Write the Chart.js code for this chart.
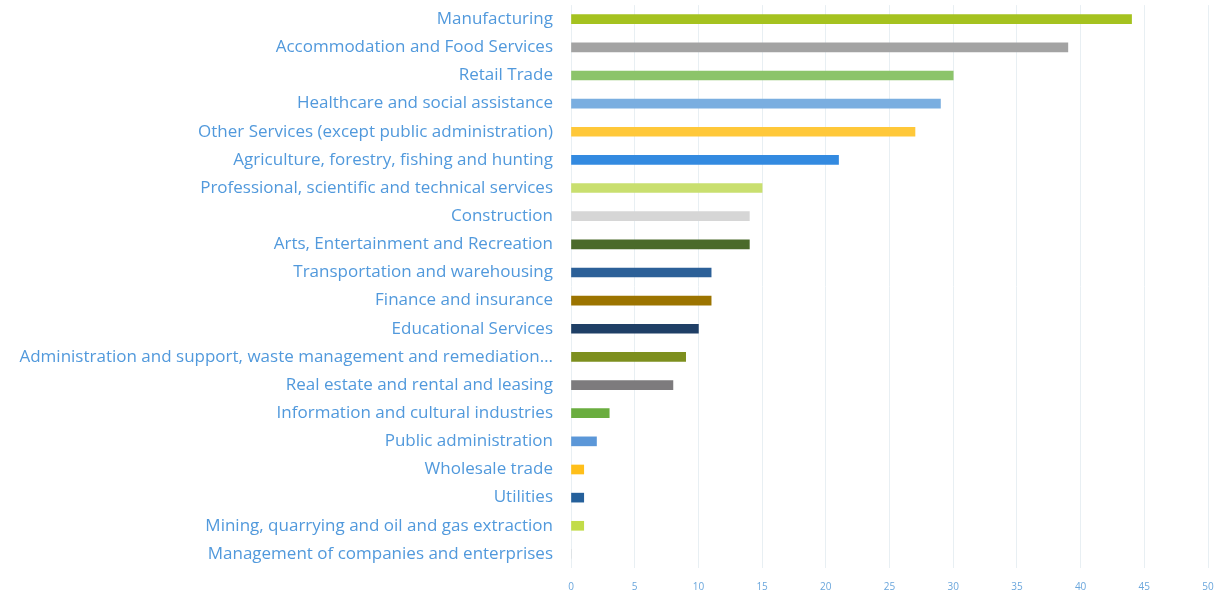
<!DOCTYPE html>
<html>
<head>
<meta charset="utf-8">
<script src="https://cdn.jsdelivr.net/npm/chart.js@4/dist/chart.umd.min.js"></script>
<style>
    html, body { margin: 0; padding: 0; background: #fff; }
    #wrap { width: 1217px; height: 593px; position: relative; }
</style>
</head>
<body>
<div id="wrap"><canvas id="industryChart"></canvas></div>
<script>
const industries = [
    'Manufacturing',
    'Accommodation and Food Services',
    'Retail Trade',
    'Healthcare and social assistance',
    'Other Services (except public administration)',
    'Agriculture, forestry, fishing and hunting',
    'Professional, scientific and technical services',
    'Construction',
    'Arts, Entertainment and Recreation',
    'Transportation and warehousing',
    'Finance and insurance',
    'Educational Services',
    'Administration and support, waste management and remediation\u2026',
    'Real estate and rental and leasing',
    'Information and cultural industries',
    'Public administration',
    'Wholesale trade',
    'Utilities',
    'Mining, quarrying and oil and gas extraction',
    'Management of companies and enterprises'
];

const counts = [44, 39, 30, 29, 27, 21, 15, 14, 14, 11, 11, 10, 9, 8, 3, 2, 1, 1, 1, 0];

const barColors = [
    '#a5c21f', '#a3a3a3', '#8cc46a', '#7aaee0', '#ffc839',
    '#338ae0', '#c9df6f', '#d6d6d6', '#4a6a2a', '#2c6098',
    '#9c7400', '#1f3f66', '#7d8f1e', '#7d7b7d', '#6aad3f',
    '#5b97d8', '#ffbf1a', '#25609b', '#c2dc48', '#cccccc'
];

const xTicks = [0, 5, 10, 15, 20, 25, 30, 35, 40, 45, 50];

const labelBlue = '#5199dc';

document.addEventListener('DOMContentLoaded', () => {
    const ctx = document.getElementById('industryChart').getContext('2d');

    new Chart(ctx, {
        type: 'bar',
        data: {
            labels: industries,
            datasets: [{
                data: counts,
                backgroundColor: barColors,
                borderWidth: 0,
                barThickness: 9
            }]
        },
        options: {
            indexAxis: 'y',
            responsive: true,
            maintainAspectRatio: false,
            animation: false,
            layout: { padding: { left: 0, right: 0, top: 5, bottom: 0 } },
            plugins: {
                legend: { display: false },
                tooltip: { enabled: false }
            },
            scales: {
                x: {
                    min: 0,
                    max: 50,
                    afterBuildTicks: axis => {
                        axis.ticks = xTicks.map(v => ({ value: v }));
                    },
                    afterFit: axis => {
                        axis.height = 25;
                        axis.paddingRight = 9;
                    },
                    grid: { color: '#e8eff3', drawTicks: false, lineWidth: 1 },
                    border: { display: false },
                    ticks: {
                        color: '#6aa6dc',
                        padding: 13,
                        font: { family: 'Open Sans', size: 10 }
                    }
                },
                y: {
                    afterFit: axis => { axis.width = 571; },
                    // labels sit 18px left of the plot; tickLength gives the gap
                    grid: { display: false, drawTicks: true, tickLength: 18 },
                    border: { display: false },
                    ticks: {
                        color: labelBlue,
                        padding: 0,
                        autoSkip: false,
                        font: { family: 'Open Sans', size: 17, lineHeight: 0.6 }
                    }
                }
            }
        }
    });
});
</script>
</body>
</html>
